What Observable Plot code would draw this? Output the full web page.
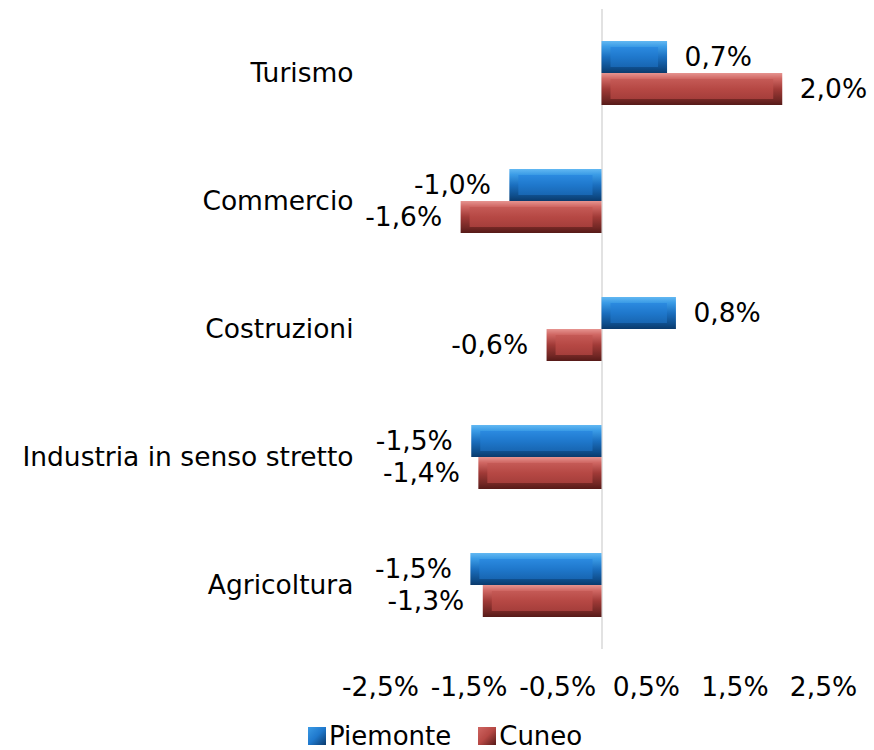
<!DOCTYPE html>
<html>
<head>
<meta charset="utf-8">
<script src="https://cdn.jsdelivr.net/npm/d3@7"></script>
<script src="https://cdn.jsdelivr.net/npm/@observablehq/plot@0.6"></script>
<style>
  html, body { margin: 0; padding: 0; background: #fff; }
  body { width: 874px; font-family: "DejaVu Sans", Verdana, sans-serif; }
  #legend { display: flex; align-items: center; height: 44px; padding-left: 308px; font-size: 26px; color: #000; }
  .item { display: flex; align-items: center; }
  .sw { width: 18px; height: 18px; margin-right: 3px; }
  .item + .item { margin-left: 27px; }
</style>
</head>
<body>
<div id="chart"></div>
<div id="legend"></div>
<script>
const categories = ["Turismo", "Commercio", "Costruzioni", "Industria in senso stretto", "Agricoltura"];
const seriesNames = ["Piemonte", "Cuneo"];
const piemonte = [0.74, -1.04, 0.84, -1.47, -1.48];
const cuneo = [2.04, -1.59, -0.62, -1.39, -1.34];
const xTicks = [-2.5, -1.5, -0.5, 0.5, 1.5, 2.5];

const rows = categories.flatMap((c, i) => [
  {category: c, series: "Piemonte", value: piemonte[i]},
  {category: c, series: "Cuneo", value: cuneo[i]}
]);

const fmt = v => v.toFixed(1).replace(".", ",") + "%";
const ids = {Piemonte: "pie", Cuneo: "cun"};
const FS = 26.5;

const barMarks = seriesNames.flatMap(s => {
  const d = rows.filter(r => r.series === s);
  return [
    Plot.barX(d, {x: "value", y: "series", fy: "category", fill: `url(#edge-${ids[s]})`}),
    Plot.barX(d, {x: "value", y: "series", fy: "category", fill: `url(#face-${ids[s]})`,
      insetTop: 6, insetBottom: 6, insetLeft: 9, insetRight: 9})
  ];
});

const plot = Plot.plot({
  width: 874,
  height: 714,
  marginLeft: 380,
  marginRight: 51,
  marginTop: 9,
  marginBottom: 65,
  style: {fontFamily: "DejaVu Sans, Verdana, sans-serif", fontSize: FS + "px", color: "#000", background: "#fff"},
  x: {domain: [-2.5, 2.5]},
  y: {domain: seriesNames, paddingInner: 0, paddingOuter: 0.94, axis: null},
  fy: {domain: categories, padding: 0},
  marks: [
    Plot.ruleX([0], {stroke: "#d9d9d9", strokeWidth: 1.5}),
    ...barMarks,
    Plot.text(rows.filter(r => r.value >= 0), {x: "value", y: "series", fy: "category", text: r => fmt(r.value),
      textAnchor: "start", dx: 17, fontSize: FS, fill: "#000"}),
    Plot.text(rows.filter(r => r.value < 0), {x: "value", y: "series", fy: "category", text: r => fmt(r.value),
      textAnchor: "end", dx: -19, fontSize: FS, fill: "#000"}),
    Plot.axisX({ticks: xTicks, tickFormat: fmt, tickSize: 0, tickPadding: 28, fontSize: FS, label: null}),
    Plot.axisFy({anchor: "left", tickSize: 0, tickPadding: 27, fontSize: FS, label: null})
  ]
});

const defs = d3.select(plot).insert("defs", ":first-child");
function grad(id, stops) {
  const g = defs.append("linearGradient").attr("id", id).attr("x1", 0).attr("y1", 0).attr("x2", 0).attr("y2", 1);
  stops.forEach(([o, c]) => g.append("stop").attr("offset", o).attr("stop-color", c));
}
grad("edge-pie", [[0, "#62b8f2"], [0.18, "#3a9be6"], [0.5, "#1b6fbf"], [0.82, "#0f4f8e"], [1, "#0a3a6c"]]);
grad("face-pie", [[0, "#2b8ae0"], [0.5, "#1f78cc"], [1, "#1866b2"]]);
grad("edge-cun", [[0, "#e69490"], [0.18, "#cf6662"], [0.5, "#a03a37"], [0.82, "#742825"], [1, "#561a18"]]);
grad("face-cun", [[0, "#c55a56"], [0.5, "#b64844"], [1, "#a53e3b"]]);

document.getElementById("chart").appendChild(plot);

const legend = d3.select("#legend");
const swatch = {Piemonte: "linear-gradient(135deg, #3a9be6 0%, #1f78cc 50%, #0a3a6c 100%)",
                Cuneo: "linear-gradient(135deg, #cf6662 0%, #b64844 50%, #561a18 100%)"};
seriesNames.forEach(s => {
  const it = legend.append("div").attr("class", "item");
  it.append("div").attr("class", "sw").style("background", swatch[s]);
  it.append("span").text(s);
});
</script>
</body>
</html>
